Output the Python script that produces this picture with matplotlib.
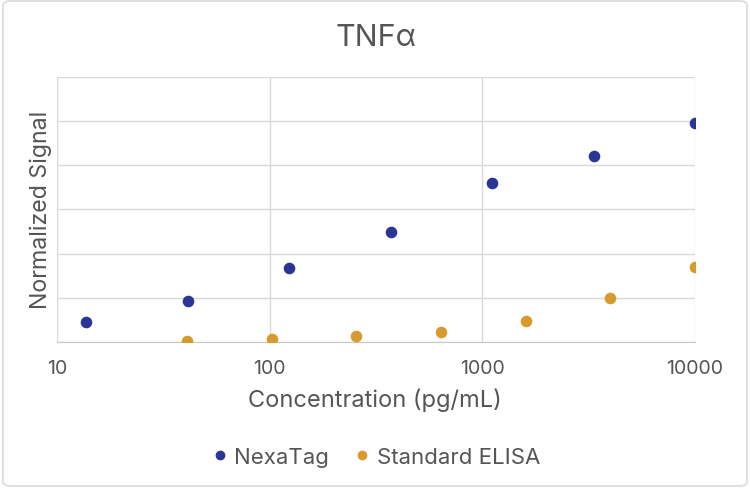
import matplotlib
matplotlib.use("Agg")
import matplotlib.pyplot as plt
from matplotlib.lines import Line2D
from matplotlib.patches import FancyBboxPatch

plt.rcParams['font.family'] = ['Inter', 'DejaVu Sans']

nexatag_conc = [13.7, 41.2, 123.5, 370.4, 1111.1, 3333.3, 10000]
nexatag_signal = [0.45, 0.92, 1.68, 2.48, 3.60, 4.22, 4.95]
elisa_conc = [40.96, 102.4, 256, 640, 1600, 4000, 10000]
elisa_signal = [0.02, 0.07, 0.14, 0.22, 0.48, 1.00, 1.70]
x_ticks = [10, 100, 1000, 10000]
x_tick_labels = ['10', '100', '1000', '10000']

blue = '#2B3595'
orange = '#D69A2D'
grid_col = '#D9D9D9'
text_col = '#555555'

fig = plt.figure(figsize=(7.5, 4.89), dpi=100)
ax = fig.add_axes([0.076, 0.2986, 0.8507, 0.5419])

ax.scatter(nexatag_conc, nexatag_signal, s=70, color=blue, zorder=3, linewidths=0, label='NexaTag')
ax.scatter(elisa_conc, elisa_signal, s=70, color=orange, zorder=3, linewidths=0, label='Standard ELISA')

ax.set_xscale('log')
ax.set_xlim(10, 10000)
ax.set_ylim(0, 6)
ax.set_xticks(x_ticks)
ax.set_xticklabels(x_tick_labels)
ax.minorticks_off()
ax.set_yticks([0, 1, 2, 3, 4, 5, 6])
ax.set_yticklabels([])
ax.tick_params(axis='both', length=0, colors=text_col, labelsize=14, pad=12)
ax.grid(True, color=grid_col, linewidth=1)
ax.set_axisbelow(True)
for side in ['top', 'right', 'left']:
    ax.spines[side].set_visible(False)
ax.spines['bottom'].set_color('#C8C8C8')

fig.text(375 / 750, 1 - 400 / 489, 'Concentration (pg/mL)', fontsize=17, color=text_col,
         ha='center', va='center')
fig.text(41 / 750, 1 - 210 / 489, 'Normalized Signal', fontsize=16.7, color=text_col,
         ha='center', va='center', rotation=90)
fig.text(376 / 750, 1 - 38 / 489, 'TNFα', fontsize=22, color=text_col, ha='center', va='center')

handles = [Line2D([], [], marker='o', linestyle='', color=blue, markersize=6, label='NexaTag'),
           Line2D([], [], marker='o', linestyle='', color=orange, markersize=6, label='Standard ELISA')]
leg = fig.legend(handles=handles, loc='center', bbox_to_anchor=(0.4993, 1 - 458 / 489), ncol=2, frameon=False,
                 fontsize=16, handlelength=1.0, handletextpad=0.15, columnspacing=1.0, labelcolor=text_col)

border = FancyBboxPatch((0.004, 0.004), 0.992, 0.992, boxstyle='round,pad=0,rounding_size=0.01',
                        transform=fig.transFigure, fill=False, edgecolor='#E0E0E0', linewidth=1.5)
fig.patches.append(border)

fig.savefig('out.png', dpi=100)
